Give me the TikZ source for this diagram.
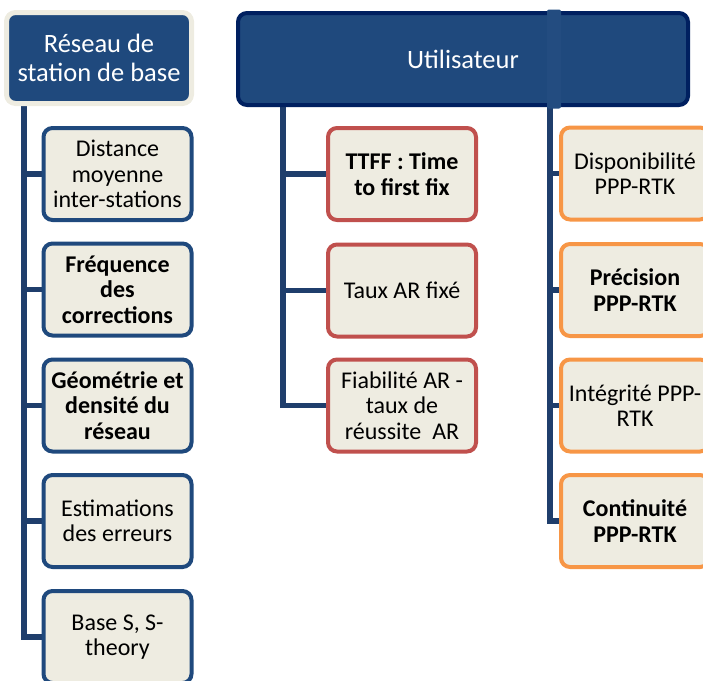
\documentclass[tikz,border=0pt]{standalone}
\usepackage{fontspec}
\setmainfont{Carlito}
\usetikzlibrary{backgrounds}
\definecolor{boxfill}{HTML}{EEECE1}
\definecolor{navy}{HTML}{1F497D}
\definecolor{navydark}{HTML}{002060}
\definecolor{spinec}{HTML}{1F3E6C}
\definecolor{redb}{HTML}{C0504D}
\definecolor{orangeb}{HTML}{F79646}
\definecolor{striplight}{HTML}{234C80}
\begin{document}
\begin{tikzpicture}[x=1pt,y=-1pt,
  leaf/.style={draw, line width=4pt, rounded corners=9pt, fill=boxfill,
    minimum width=148pt, minimum height=92pt, align=center, inner sep=0pt,
    text=black, font=\fontsize{24}{25.5}\selectfont},
  blueleaf/.style={leaf, draw=navy},
  redleaf/.style={leaf, draw=redb},
  orangeleaf/.style={leaf, draw=orangeb},
  spine/.style={draw=spinec, line width=5.5pt},
  rootbox/.style={rounded corners=9pt, fill=navy, text=white, align=center,
    inner sep=0pt, font=\fontsize{26.5}{29}\selectfont}]
\useasboundingbox (0,0) rectangle (703,680);
\clip (0,0) rectangle (703,680);

% spine anchors
\coordinate (s1) at (24,100);
\coordinate (s2) at (283,100);
\coordinate (s3) at (550,100);

% leaves
\node[blueleaf] (l1) at (117.5,174) {Distance\\moyenne\\inter-stations};
\node[blueleaf] (l2) at (117.5,289.5) {\bfseries Fréquence\\\bfseries des\\\bfseries corrections};
\node[blueleaf] (l3) at (117.5,405.5) {\bfseries Géométrie et\\\bfseries densité du\\\bfseries réseau};
\node[blueleaf] (l4) at (117.5,521) {Estimations\\des erreurs};
\node[blueleaf] (l5) at (117.5,637) {Base S, S-\\theory};

\node[redleaf] (m1) at (402,174) {\bfseries TTFF : Time\\\bfseries to first fix};
\node[redleaf] (m2) at (402,290.5) {Taux AR fixé};
\node[redleaf] (m3) at (402,405.5) {Fiabilité AR -\\taux de\\réussite~~AR};

\node[orangeleaf] (o1) at (635,173.5) {Disponibilité\\PPP-RTK};
\node[orangeleaf] (o2) at (635,290) {\bfseries Précision\\\bfseries PPP-RTK};
\node[orangeleaf] (o3) at (635,405.5) {Intégrité PPP-\\RTK};
\node[orangeleaf] (o4) at (635,521) {\bfseries Continuité\\\bfseries PPP-RTK};

% spines and branches (behind leaves)
\begin{scope}[on background layer]
\draw[spine] (s1) |- (l5.west);
\foreach \n in {l1,l2,l3,l4} \draw[spine] (s1 |- \n.west) -- (\n.west);
\draw[spine] (s2) |- (m3.west);
\foreach \n in {m1,m2} \draw[spine] (s2 |- \n.west) -- (\n.west);
\draw[spine] (s3) |- (o4.west);
\foreach \n in {o1,o2,o3} \draw[spine] (s3 |- \n.west) -- (\n.west);
\end{scope}

% roots
\node[rootbox, draw=boxfill, line width=5pt, minimum width=185pt, minimum height=91pt] (r1) at (99,58) {Réseau de\\station de base};
\node[rootbox, draw=navydark, line width=4pt, minimum width=450pt, minimum height=92pt] (r2) at (463,59) {Utilisateur};
\fill[striplight, rounded corners=2pt] (547,9.5) rectangle (561,108.5);
\end{tikzpicture}
\end{document}
